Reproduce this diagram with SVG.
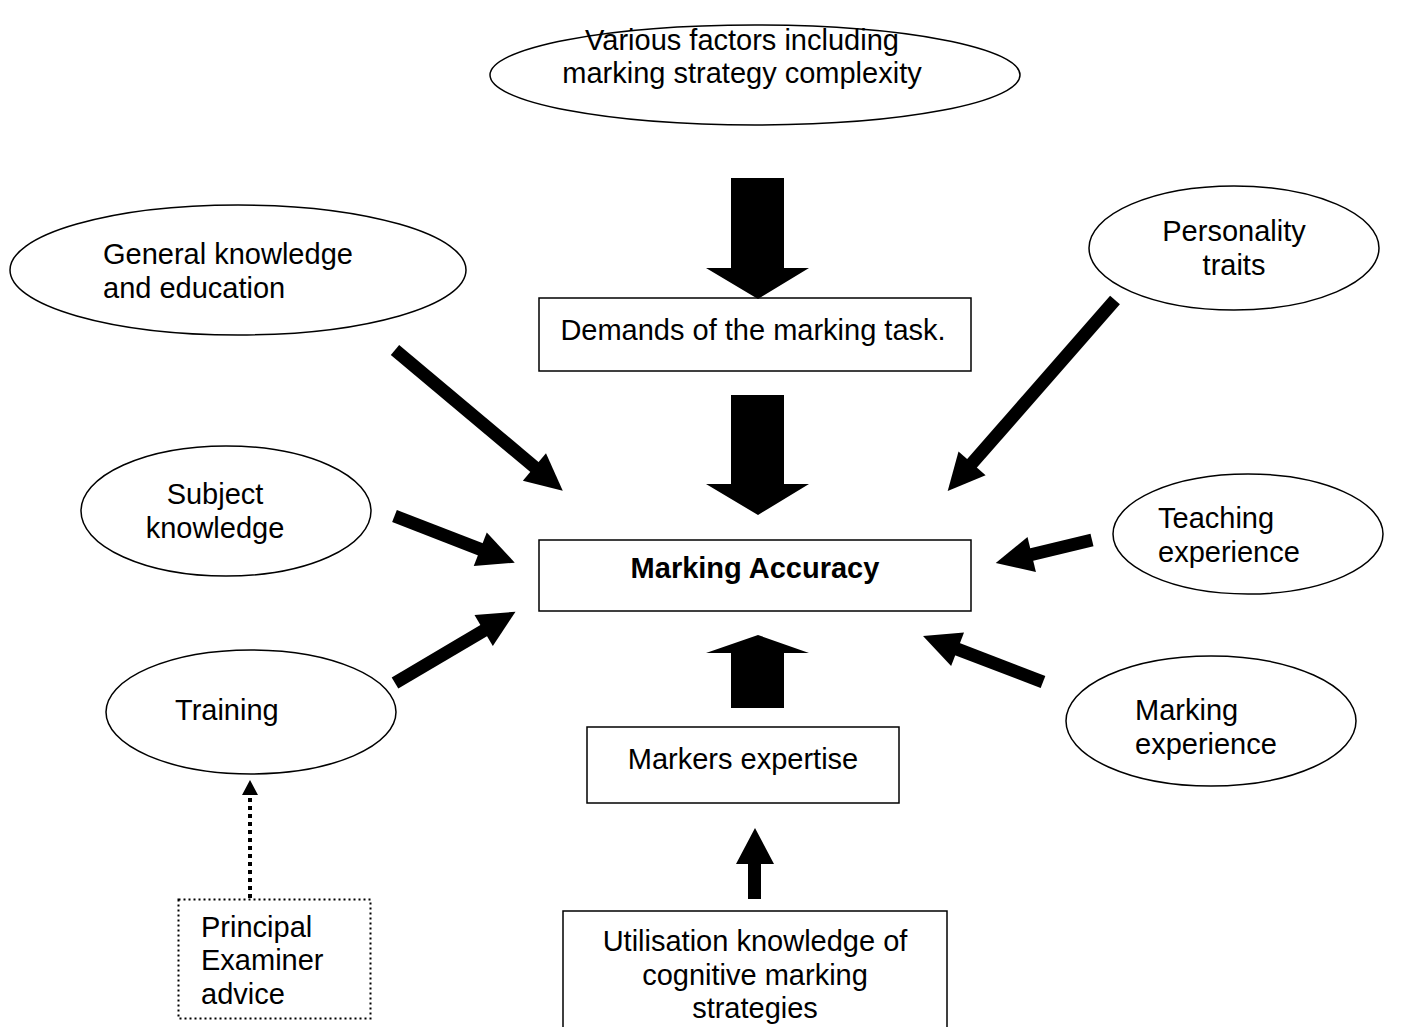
<svg xmlns="http://www.w3.org/2000/svg" width="1411" height="1027" viewBox="0 0 1411 1027">
<style>
.n{fill:#fff;stroke:#000;stroke-width:1.5}
.t{font-family:"Liberation Sans",Arial,sans-serif;font-size:29px;fill:#000}
.c{text-anchor:middle}
.a{fill:#000;stroke:none}
</style>
<defs>
<polygon id="dh" points="-37,-18 0,0 -37,18" fill="#000"/>
</defs>
<rect width="1411" height="1027" fill="#fff"/>
<g id="n-various">
<ellipse class="n" cx="755" cy="75" rx="265" ry="50"/>
<text class="t c" x="742" y="50">Various factors including</text>
<text class="t c" x="742" y="83">marking strategy complexity</text>
</g>
<g id="n-general">
<ellipse class="n" cx="238" cy="270" rx="228" ry="65"/>
<text class="t" x="103" y="264">General knowledge</text>
<text class="t" x="103" y="298">and education</text>
</g>
<g id="n-personality">
<ellipse class="n" cx="1234" cy="248" rx="145" ry="62"/>
<text class="t c" x="1234" y="241">Personality</text>
<text class="t c" x="1234" y="275">traits</text>
</g>
<g id="n-demands">
<rect class="n" x="539" y="298" width="432" height="73"/>
<text class="t c" x="753" y="340">Demands of the marking task.</text>
</g>
<g id="n-subject">
<ellipse class="n" cx="226" cy="511" rx="145" ry="65"/>
<text class="t c" x="215" y="504">Subject</text>
<text class="t c" x="215" y="538">knowledge</text>
</g>
<g id="n-accuracy">
<rect class="n" x="539" y="540" width="432" height="71"/>
<text class="t c" x="755" y="578" font-weight="bold">Marking Accuracy</text>
</g>
<g id="n-teaching">
<ellipse class="n" cx="1248" cy="534" rx="135" ry="60"/>
<text class="t" x="1158" y="528">Teaching</text>
<text class="t" x="1158" y="562">experience</text>
</g>
<g id="n-training">
<ellipse class="n" cx="251" cy="712" rx="145" ry="62"/>
<text class="t" x="175" y="720">Training</text>
</g>
<g id="n-markingexp">
<ellipse class="n" cx="1211" cy="721" rx="145" ry="65"/>
<text class="t" x="1135" y="720">Marking</text>
<text class="t" x="1135" y="754">experience</text>
</g>
<g id="n-expertise">
<rect class="n" x="587" y="727" width="312" height="76"/>
<text class="t c" x="743" y="769">Markers expertise</text>
</g>
<g id="n-principal">
<rect x="178.5" y="899.5" width="192" height="119" fill="#fff" stroke="#000" stroke-width="2" stroke-dasharray="2,3"/>
<text class="t" x="201" y="937">Principal</text>
<text class="t" x="201" y="970">Examiner</text>
<text class="t" x="201" y="1004">advice</text>
</g>
<g id="n-utilisation">
<rect class="n" x="563" y="911" width="384" height="130"/>
<text class="t c" x="755" y="951">Utilisation knowledge of</text>
<text class="t c" x="755" y="985">cognitive marking</text>
<text class="t c" x="755" y="1018">strategies</text>
</g>
<g id="connectors">
<polygon class="a" points="731,178 784,178 784,268 809,268 758,299 706,268 731,268"/>
<polygon class="a" points="731,395 784,395 784,484 809,484 758,515 706,484 731,484"/>
<polygon class="a" points="731,708 784,708 784,653 809,653 758,635 706,653 731,653"/>
<polygon class="a" points="748,899 761,899 761,864 774,864 755,828 736,864 748,864"/>
<use href="#dh" transform="translate(395,350) rotate(40) translate(219,0)"/>
<polygon class="a" transform="translate(395,350) rotate(40)" points="0,-6.5 183,-6.5 183,6.5 0,6.5"/>
<use href="#dh" transform="translate(394.5,516) rotate(21.2) translate(129,0)"/>
<polygon class="a" transform="translate(394.5,516) rotate(21.2)" points="0,-6.5 93,-6.5 93,6.5 0,6.5"/>
<use href="#dh" transform="translate(395,683) rotate(-30.6) translate(140,0)"/>
<polygon class="a" transform="translate(395,683) rotate(-30.6)" points="0,-6.5 104,-6.5 104,6.5 0,6.5"/>
<use href="#dh" transform="translate(1115,300) rotate(131.2) translate(254,0)"/>
<polygon class="a" transform="translate(1115,300) rotate(131.2)" points="0,-6.5 218,-6.5 218,6.5 0,6.5"/>
<use href="#dh" transform="translate(1092,540) rotate(166.5) translate(99,0)"/>
<polygon class="a" transform="translate(1092,540) rotate(166.5)" points="0,-6.5 63,-6.5 63,6.5 0,6.5"/>
<use href="#dh" transform="translate(1043,682) rotate(201) translate(128.5,0)"/>
<polygon class="a" transform="translate(1043,682) rotate(201)" points="0,-6.5 92.5,-6.5 92.5,6.5 0,6.5"/>
<line x1="250" y1="898" x2="250" y2="795" stroke="#000" stroke-width="4" stroke-dasharray="4,4"/>
<polygon class="a" points="242,795 258,795 250,780"/>
</g>
</svg>
